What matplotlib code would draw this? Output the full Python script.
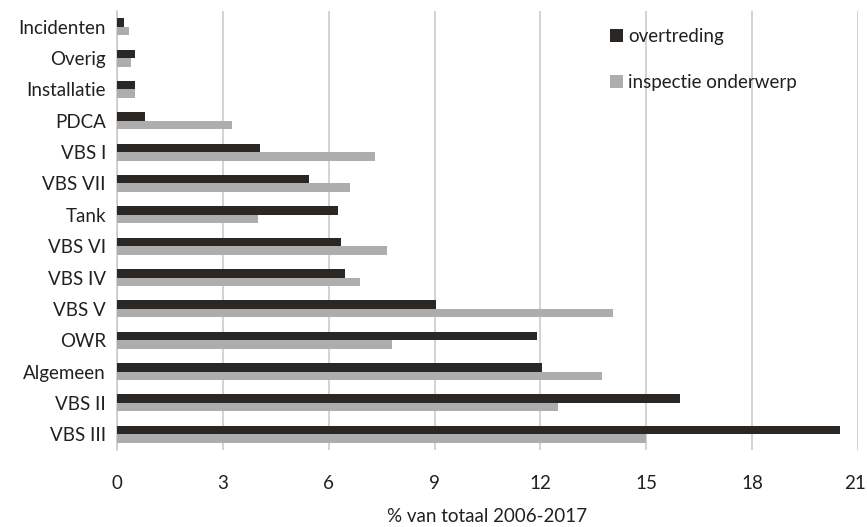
import matplotlib.pyplot as plt
import matplotlib.transforms as mtransforms
import numpy as np

plt.rcParams['font.family'] = ['Lato', 'DejaVu Sans']

categories = ['Incidenten', 'Overig', 'Installatie', 'PDCA', 'VBS I', 'VBS VII',
              'Tank', 'VBS VI', 'VBS IV', 'VBS V', 'OWR', 'Algemeen', 'VBS II',
              'VBS III']
overtreding = [0.2, 0.5, 0.5, 0.8, 4.05, 5.45, 6.25, 6.35, 6.45, 9.05, 11.9,
               12.05, 15.95, 20.5]
inspectie = [0.35, 0.4, 0.5, 3.25, 7.3, 6.6, 4.0, 7.65, 6.9, 14.05, 7.8,
             13.75, 12.5, 15.0]
xticks = [0, 3, 6, 9, 12, 15, 18, 21]

dark = '#2b2725'
grey = '#adadad'
txt = '#231f20'
h = 0.27
fs = 13.5

fig = plt.figure(figsize=(8.67, 5.27), dpi=100)
ax = fig.add_axes([117/867, 1 - 450/527, (858-117)/867, (450-11)/527])

y = np.arange(len(categories))
ax.barh(y - h/2, overtreding, height=h, color=dark, label='overtreding', zorder=3)
ax.barh(y + h/2, inspectie, height=h, color=grey, label='inspectie onderwerp', zorder=3)

ax.set_xlim(0, 21)
ax.set_ylim(len(categories) - 0.5, -0.5)
ax.set_xticks(xticks)
ax.set_xticklabels([str(t) for t in xticks])
ax.set_yticks(y)
ax.set_yticklabels(categories)
ax.tick_params(axis='both', length=0, labelsize=fs, colors=txt)
ax.tick_params(axis='x', pad=18)
ax.tick_params(axis='y', pad=8)
ax.xaxis.grid(True, color='#c8c8c8', linewidth=1.1, zorder=0)
for s in ['top', 'right', 'bottom']:
    ax.spines[s].set_visible(False)
ax.spines['left'].set_color('#c8c8c8')
ax.spines['left'].set_linewidth(1.1)

# last tick label sits at the figure edge, shift it in a bit
last = ax.get_xticklabels()[-1]
last.set_transform(last.get_transform() +
                   mtransforms.ScaledTranslation(-0.03, 0, fig.dpi_scale_trans))

fig.text((117 + 858) / 2 / 867, 1 - 516/527, '% van totaal 2006-2017',
         ha='center', va='center', fontsize=fs, color=txt)

leg = ax.legend(loc='upper left', bbox_to_anchor=(0.643, 1.0), frameon=False,
                fontsize=fs, handlelength=0.65, handleheight=0.65,
                handletextpad=0.3, labelspacing=1.55, labelcolor=txt)

fig.savefig('out.png', dpi=100)
